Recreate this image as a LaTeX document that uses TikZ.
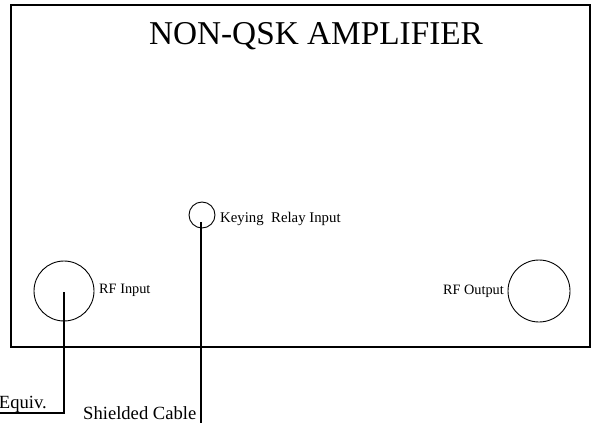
\documentclass[tikz,border=0pt]{standalone}
\usepackage{fontspec}
\setmainfont{Liberation Serif}
\begin{document}
\begin{tikzpicture}[x=1pt,y=-1pt,
  lbl/.style={inner sep=0pt,font=\fontsize{14.3}{16}\selectfont},
  big/.style={inner sep=0pt,font=\fontsize{18.6}{20}\selectfont},
  jack/.style={circle,draw,line width=0.9pt,inner sep=0pt},
  wire/.style={line width=1.1pt}]
\useasboundingbox (0,0) rectangle (592,423);
\fill[white] (0,0) rectangle (592,423);
\draw[line width=1.2pt] (11,5) rectangle (590,347);
\node[inner sep=0pt,anchor=base,font=\fontsize{33.3}{36}\selectfont] (title) at (316,45) {NON-QSK AMPLIFIER};
\node[jack,minimum size=60pt] (rfin) at (64,291) {};
\node[jack,minimum size=26pt] (key) at (202,215) {};
\node[jack,minimum size=62pt] (rfout) at (539,291) {};
\node[lbl,anchor=base west] (rfinl) at (99,293) {RF Input};
\node[lbl,anchor=base west,font=\fontsize{14.8}{16}\selectfont] (keyl) at (220,222) {Keying\ \ Relay Input};
\node[lbl,anchor=base east] (rfoutl) at (504,294) {RF Output};
\node[big,anchor=base east] (equiv) at (47,408) {Equiv.};
\node[big,anchor=base west] (shield) at (83,419) {Shielded Cable};
\coordinate (a1) at (64,292);
\coordinate (a2) at (64,413);
\coordinate (a3) at (0,413);
\coordinate (b1) at (201,222);
\coordinate (b2) at (201,423);
\draw[wire] (a1) -- (a2) -- (a3);
\draw[wire] (b1) -- (b2);
\end{tikzpicture}
\end{document}
